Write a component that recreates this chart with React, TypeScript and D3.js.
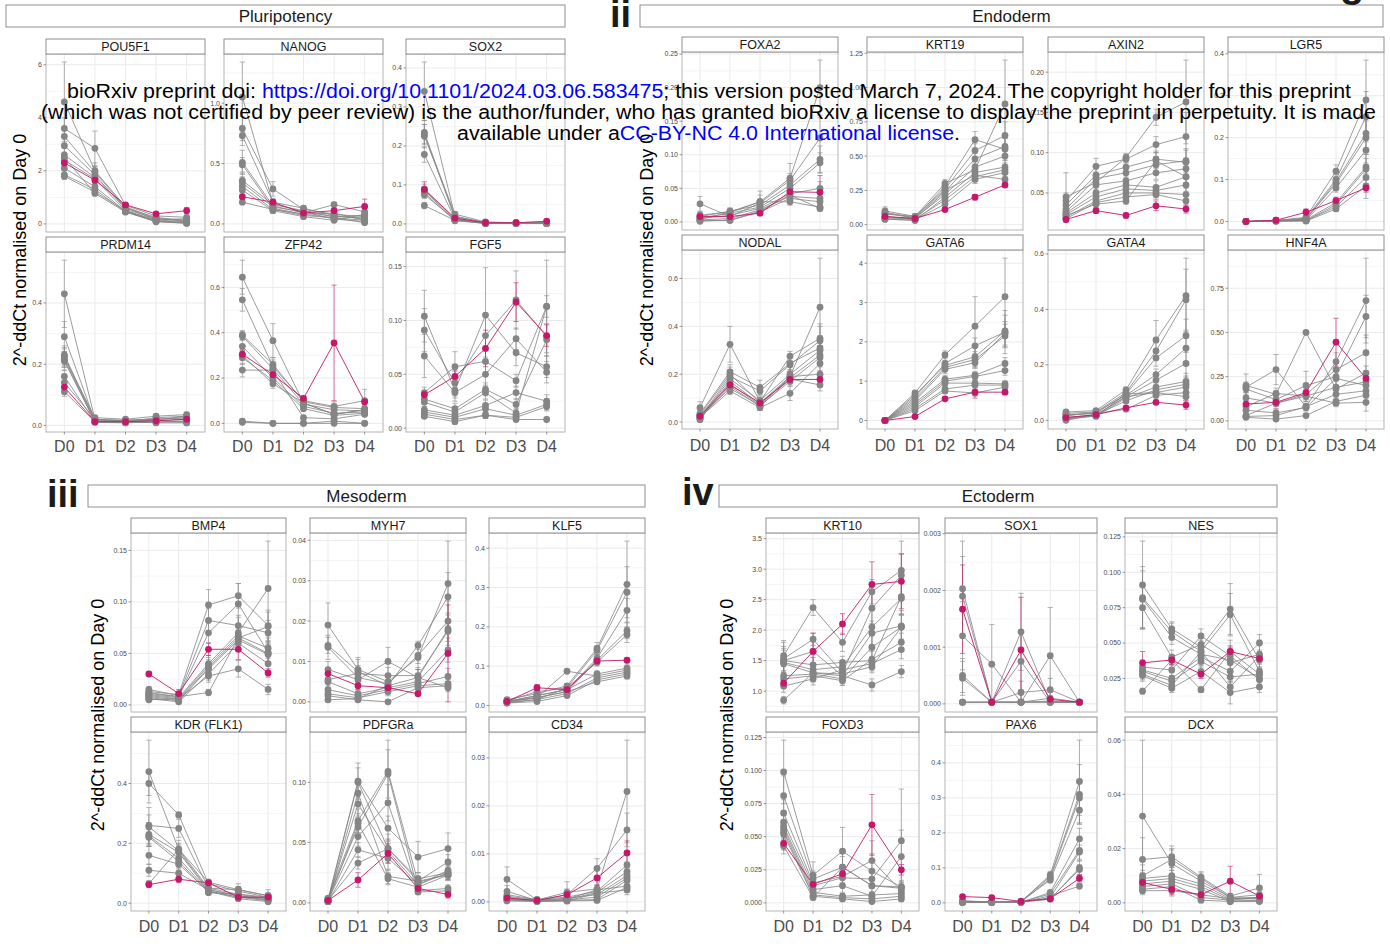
import React from "react";
import * as d3 from "d3";

const DAYS = ["D0", "D1", "D2", "D3", "D4"];
const Y_TITLE = "2^-ddCt normalised on Day 0";

// ---------- Pluripotency ----------
const POU5F1_lines = [[4.6,2.0,0.65,0.2,0.15],[3.6,2.85,0.7,0.3,0.25],[3.3,1.95,0.6,0.25,0.1],[2.95,1.85,0.55,0.2,0.1],[2.6,1.75,0.62,0.15,0.2],[2.4,1.7,0.5,0.12,0.05],[2.1,1.4,0.48,0.1,0.05],[1.85,1.3,0.45,0.1,0.02],[1.8,1.2,0.5,0.15,0.08],[2.5,1.15,0.45,0.08,0.03]];
const POU5F1_err = [[1.5,0.3,0.08,0.05,0.05],[0.4,0.65,0.1,0.06,0.06],[0.3,0.2,0.08,0.05,0.04],[0.3,0.3,0.07,0.04,0.03],[0.25,0.15,0.06,0.04,0.05],[0.2,0.2,0.05,0.03,0.02],[0.2,0.15,0.05,0.03,0.02],[0.15,0.1,0.04,0.03,0.02],[0.12,0.1,0.05,0.04,0.03],[0.2,0.08,0.04,0.03,0.02]];
const POU5F1_mag = [2.3,1.65,0.72,0.38,0.5];
const POU5F1_magErr = [0.2,0.12,0.05,0.05,0.12];
const POU5F1_ticks = ["0","2","4","6"];

const NANOG_lines = [[1.05,0.17,0.1,0.06,0.05],[0.79,0.29,0.12,0.08,0.06],[0.73,0.18,0.13,0.07,0.04],[0.51,0.15,0.09,0.16,0.1],[0.49,0.13,0.08,0.05,0.03],[0.36,0.16,0.11,0.06,0.07],[0.34,0.14,0.1,0.04,0.02],[0.31,0.12,0.07,0.05,0.01],[0.28,0.11,0.06,0.03,0.08],[0.18,0.12,0.08,0.09,0.03]];
const NANOG_err = [[0.29,0.03,0.02,0.02,0.02],[0.1,0.06,0.02,0.02,0.02],[0.08,0.03,0.02,0.02,0.01],[0.1,0.03,0.02,0.02,0.03],[0.06,0.02,0.02,0.01,0.01],[0.06,0.03,0.02,0.02,0.02],[0.05,0.02,0.02,0.01,0.01],[0.05,0.02,0.01,0.01,0.01],[0.04,0.02,0.01,0.01,0.02],[0.02,0.02,0.01,0.02,0.01]];
const NANOG_mag = [0.225,0.18,0.09,0.11,0.145];
const NANOG_magErr = [0.02,0.02,0.02,0.02,0.06];
const NANOG_ticks = ["0.0","0.5","1.0"];

const SOX2_lines = [[0.34,0.02,0.003,0.002,0.003],[0.235,0.018,0.004,0.003,0.002],[0.23,0.015,0.002,0.001,0.001],[0.225,0.025,0.005,0.003,0.004],[0.178,0.012,0.002,0.002,0.002],[0.09,0.012,0.003,0.002,0.001],[0.085,0.01,0.002,0.001,0.002],[0.08,0.008,0.002,0.002,0.003],[0.075,0.011,0.001,0.001,0.001],[0.047,0.009,0.001,0.001,0.001]];
const SOX2_err = [[0.075,0.005,0.002,0.002,0.002],[0.03,0.004,0.002,0.002,0.002],[0.025,0.004,0.001,0.001,0.001],[0.03,0.005,0.002,0.002,0.002],[0.02,0.003,0.001,0.001,0.001],[0.012,0.003,0.001,0.001,0.001],[0.01,0.003,0.001,0.001,0.001],[0.01,0.002,0.001,0.001,0.001],[0.01,0.003,0.001,0.001,0.001],[0.008,0.002,0.001,0.001,0.001]];
const SOX2_mag = [0.088,0.015,0.003,0.003,0.007];
const SOX2_magErr = [0.02,0.003,0.002,0.002,0.003];
const SOX2_ticks = ["0.0","0.1","0.2","0.3","0.4"];

const PRDM14_lines = [[0.43,0.02,0.015,0.02,0.025],[0.29,0.015,0.012,0.025,0.03],[0.23,0.018,0.015,0.015,0.02],[0.225,0.012,0.01,0.01,0.015],[0.22,0.025,0.02,0.03,0.035],[0.215,0.01,0.008,0.012,0.01],[0.21,0.014,0.018,0.02,0.025],[0.16,0.011,0.012,0.008,0.008],[0.14,0.02,0.015,0.018,0.03],[0.11,0.012,0.01,0.015,0.012]];
const PRDM14_err = [[0.11,0.005,0.004,0.006,0.008],[0.05,0.004,0.004,0.008,0.01],[0.03,0.004,0.004,0.005,0.006],[0.03,0.003,0.003,0.004,0.005],[0.03,0.006,0.005,0.008,0.008],[0.025,0.003,0.003,0.004,0.004],[0.03,0.004,0.004,0.006,0.006],[0.02,0.003,0.003,0.003,0.003],[0.02,0.005,0.004,0.005,0.008],[0.015,0.003,0.003,0.004,0.004]];
const PRDM14_mag = [0.125,0.012,0.012,0.015,0.02];
const PRDM14_magErr = [0.015,0.003,0.003,0.004,0.005];
const PRDM14_ticks = ["0.0","0.2","0.4"];

const ZFP42_lines = [[0.645,0.365,0.09,0.04,0.06],[0.545,0.25,0.1,0.075,0.1],[0.39,0.26,0.095,0.07,0.065],[0.385,0.24,0.085,0.06,0.055],[0.34,0.2,0.075,0.045,0.05],[0.29,0.19,0.065,0.035,0.045],[0.235,0.235,0.025,0.02,0.04],[0.3,0.175,0.09,0.04,0.06],[0.01,0.0,0.0,0.01,0.0],[0.005,0.0,0.0,0.0,0.0]];
const ZFP42_err = [[0.075,0.075,0.02,0.02,0.02],[0.05,0.03,0.02,0.02,0.05],[0.02,0.03,0.015,0.015,0.015],[0.02,0.03,0.015,0.015,0.015],[0.03,0.02,0.015,0.01,0.01],[0.03,0.02,0.01,0.01,0.01],[0.03,0.02,0.01,0.01,0.01],[0.02,0.02,0.015,0.01,0.01],[0.01,0.002,0.002,0.01,0.002],[0.005,0.002,0.002,0.002,0.002]];
const ZFP42_mag = [0.305,0.215,0.11,0.355,0.095];
const ZFP42_magErr = [0.02,0.02,0.01,0.255,0.01];
const ZFP42_ticks = ["0.0","0.2","0.4","0.6"];

const FGF5_lines = [[0.104,0.035,0.105,0.07,0.057],[0.091,0.042,0.086,0.119,0.085],[0.067,0.033,0.05,0.083,0.052],[0.033,0.057,0.062,0.044,0.113],[0.027,0.018,0.036,0.022,0.082],[0.024,0.015,0.033,0.014,0.113],[0.017,0.012,0.021,0.033,0.025],[0.015,0.01,0.018,0.012,0.022],[0.013,0.008,0.012,0.01,0.02],[0.011,0.006,0.012,0.008,0.008]];
const FGF5_err = [[0.024,0.01,0.044,0.012,0.01],[0.02,0.012,0.02,0.027,0.03],[0.02,0.005,0.01,0.01,0.01],[0.005,0.014,0.01,0.006,0.043],[0.004,0.005,0.006,0.005,0.015],[0.004,0.004,0.006,0.004,0.01],[0.003,0.004,0.005,0.006,0.006],[0.003,0.003,0.004,0.003,0.005],[0.002,0.002,0.003,0.003,0.004],[0.002,0.002,0.003,0.002,0.002]];
const FGF5_mag = [0.031,0.048,0.074,0.117,0.086];
const FGF5_magErr = [0.003,0.005,0.017,0.018,0.01];
const FGF5_ticks = ["0.00","0.05","0.10","0.15"];

// ---------- Endoderm ----------
const FOXA2_lines = [[0.01,0.015,0.03,0.065,0.2],[0.027,0.008,0.028,0.062,0.125],[0.008,0.016,0.025,0.055,0.093],[0.006,0.013,0.022,0.05,0.088],[0.005,0.01,0.02,0.042,0.05],[0.003,0.005,0.018,0.038,0.035],[0.002,0.002,0.015,0.035,0.03],[0.004,0.014,0.03,0.03,0.022],[0.001,0.003,0.016,0.04,0.02]];
const FOXA2_err = [[0.005,0.005,0.01,0.022,0.041],[0.011,0.005,0.005,0.01,0.03],[0.004,0.005,0.005,0.008,0.02],[0.004,0.004,0.005,0.008,0.015],[0.003,0.004,0.004,0.006,0.01],[0.003,0.003,0.004,0.006,0.008],[0.002,0.002,0.003,0.005,0.006],[0.003,0.004,0.016,0.005,0.004],[0.001,0.002,0.003,0.006,0.004]];
const FOXA2_mag = [0.008,0.008,0.013,0.045,0.044];
const FOXA2_magErr = [0.003,0.003,0.003,0.008,0.025];
const FOXA2_ticks = ["0.00","0.05","0.10","0.15","0.20","0.25"];

const KRT19_lines = [[0.1,0.06,0.3,0.4,0.88],[0.09,0.05,0.28,0.62,0.55],[0.08,0.06,0.26,0.54,0.65],[0.06,0.04,0.24,0.48,0.57],[0.05,0.05,0.22,0.42,0.5],[0.04,0.03,0.2,0.38,0.42],[0.05,0.04,0.18,0.35,0.4],[0.04,0.035,0.15,0.33,0.38],[0.08,0.05,0.25,0.36,0.33]];
const KRT19_err = [[0.03,0.01,0.03,0.05,0.32],[0.02,0.01,0.03,0.06,0.08],[0.02,0.01,0.03,0.05,0.1],[0.02,0.01,0.03,0.04,0.06],[0.015,0.01,0.02,0.04,0.06],[0.01,0.01,0.02,0.03,0.05],[0.01,0.01,0.02,0.03,0.05],[0.01,0.01,0.02,0.03,0.04],[0.02,0.01,0.03,0.03,0.04]];
const KRT19_mag = [0.06,0.045,0.11,0.2,0.29];
const KRT19_magErr = [0.01,0.01,0.015,0.02,0.02];
const KRT19_ticks = ["0.00","0.25","0.50","0.75","1.00","1.25"];

const AXIN2_lines = [[0.045,0.063,0.094,0.144,0.163],[0.04,0.083,0.092,0.11,0.12],[0.035,0.072,0.082,0.092,0.088],[0.03,0.068,0.075,0.085,0.09],[0.027,0.06,0.065,0.075,0.08],[0.025,0.05,0.06,0.057,0.07],[0.023,0.045,0.055,0.053,0.06],[0.02,0.04,0.05,0.05,0.048],[0.018,0.038,0.045,0.048,0.04],[0.022,0.036,0.04,0.09,0.07]];
const AXIN2_err = [[0.03,0.01,0.005,0.01,0.052],[0.01,0.01,0.005,0.01,0.03],[0.008,0.008,0.006,0.01,0.015],[0.006,0.008,0.006,0.01,0.015],[0.005,0.006,0.006,0.008,0.01],[0.005,0.006,0.005,0.008,0.01],[0.004,0.005,0.005,0.006,0.008],[0.004,0.005,0.005,0.006,0.008],[0.004,0.004,0.004,0.006,0.006],[0.004,0.004,0.004,0.01,0.01]];
const AXIN2_mag = [0.017,0.028,0.022,0.034,0.03];
const AXIN2_magErr = [0.003,0.003,0.003,0.006,0.005];
const AXIN2_ticks = ["0.00","0.05","0.10","0.15","0.20"];

const LGR5_lines = [[0.0,0.002,0.01,0.12,0.29],[0.0,0.003,0.008,0.1,0.25],[0.0,0.001,0.005,0.095,0.21],[0.0,0.002,0.006,0.09,0.2],[0.0,0.001,0.003,0.08,0.17],[0.0,0.002,0.004,0.045,0.13],[0.0,0.001,0.002,0.04,0.125],[0.0,0.002,0.002,0.035,0.105],[0.0,0.001,0.001,0.03,0.085]];
const LGR5_err = [[0.001,0.001,0.003,0.015,0.095],[0.001,0.001,0.003,0.012,0.06],[0.001,0.001,0.002,0.012,0.04],[0.001,0.001,0.002,0.01,0.04],[0.001,0.001,0.002,0.01,0.03],[0.001,0.001,0.002,0.008,0.03],[0.001,0.001,0.001,0.008,0.025],[0.001,0.001,0.001,0.006,0.02],[0.001,0.001,0.001,0.005,0.03]];
const LGR5_mag = [0.0,0.003,0.022,0.05,0.08];
const LGR5_magErr = [0.001,0.001,0.008,0.008,0.01];
const LGR5_ticks = ["0.0","0.1","0.2","0.3","0.4"];

const NODAL_lines = [[0.03,0.2,0.08,0.19,0.48],[0.06,0.325,0.085,0.275,0.35],[0.035,0.21,0.145,0.245,0.31],[0.02,0.19,0.13,0.24,0.34],[0.015,0.18,0.09,0.2,0.3],[0.01,0.17,0.075,0.185,0.28],[0.025,0.14,0.07,0.17,0.27],[0.02,0.13,0.06,0.12,0.245],[0.03,0.16,0.07,0.19,0.2],[0.015,0.15,0.065,0.18,0.155]];
const NODAL_err = [[0.01,0.03,0.01,0.02,0.205],[0.025,0.075,0.01,0.02,0.06],[0.01,0.03,0.03,0.03,0.05],[0.01,0.03,0.02,0.03,0.06],[0.008,0.03,0.015,0.03,0.05],[0.005,0.02,0.01,0.02,0.04],[0.01,0.015,0.01,0.02,0.04],[0.01,0.015,0.01,0.03,0.03],[0.01,0.02,0.01,0.03,0.04],[0.005,0.02,0.01,0.02,0.025]];
const NODAL_mag = [0.025,0.155,0.08,0.178,0.178];
const NODAL_magErr = [0.005,0.01,0.01,0.01,0.02];
const NODAL_ticks = ["0.0","0.2","0.4","0.6"];

const GATA6_lines = [[0,0.7,1.67,2.4,3.15],[0,0.6,1.45,1.9,2.25],[0,0.65,1.4,1.62,2.28],[0,0.55,1.35,1.55,2.15],[0,0.5,1.3,1.47,2.22],[0,0.45,1.05,1.15,1.45],[0,0.4,1.0,1.12,1.27],[0,0.35,0.95,0.95,0.93],[0,0.3,0.8,0.9,0.9],[0,0.25,0.75,0.7,0.85]];
const GATA6_err = [[0.01,0.05,0.1,0.75,0.98],[0.01,0.06,0.15,0.2,0.55],[0.01,0.05,0.12,0.25,0.4],[0.01,0.05,0.1,0.2,0.3],[0.01,0.05,0.1,0.15,0.3],[0.01,0.04,0.1,0.1,0.15],[0.01,0.04,0.08,0.1,0.12],[0.01,0.04,0.08,0.1,0.08],[0.01,0.03,0.06,0.08,0.08],[0.01,0.03,0.06,0.08,0.08]];
const GATA6_mag = [0,0.1,0.55,0.72,0.72];
const GATA6_magErr = [0.01,0.02,0.04,0.15,0.06];
const GATA6_ticks = ["0","1","2","3","4"];

const GATA4_lines = [[0.03,0.035,0.11,0.29,0.45],[0.025,0.03,0.1,0.25,0.435],[0.02,0.025,0.095,0.225,0.305],[0.015,0.03,0.09,0.165,0.26],[0.01,0.02,0.085,0.145,0.205],[0.005,0.015,0.08,0.12,0.14],[0.0,0.02,0.07,0.11,0.13],[0.01,0.015,0.095,0.1,0.12],[0.02,0.025,0.04,0.09,0.1],[0.005,0.02,0.085,0.1,0.085]];
const GATA4_err = [[0.005,0.005,0.01,0.07,0.135],[0.005,0.005,0.01,0.03,0.11],[0.005,0.005,0.01,0.03,0.06],[0.004,0.005,0.01,0.02,0.06],[0.003,0.004,0.01,0.02,0.05],[0.003,0.004,0.008,0.015,0.03],[0.002,0.004,0.008,0.015,0.03],[0.003,0.003,0.01,0.015,0.02],[0.004,0.004,0.005,0.01,0.02],[0.002,0.003,0.008,0.01,0.015]];
const GATA4_mag = [0.01,0.02,0.045,0.065,0.055];
const GATA4_magErr = [0.005,0.005,0.005,0.008,0.015];
const GATA4_ticks = ["0.0","0.2","0.4","0.6"];

const HNF4A_lines = [[0.2,0.15,0.5,0.18,0.27],[0.19,0.29,0.08,0.335,0.68],[0.18,0.12,0.2,0.25,0.59],[0.13,0.1,0.15,0.29,0.385],[0.08,0.155,0.14,0.19,0.22],[0.06,0.045,0.075,0.24,0.2],[0.025,0.03,0.08,0.15,0.17],[0.02,0.01,0.03,0.11,0.145],[0.03,0.1,0.14,0.1,0.105]];
const HNF4A_err = [[0.065,0.02,0.01,0.02,0.04],[0.03,0.085,0.01,0.05,0.24],[0.03,0.03,0.08,0.05,0.12],[0.03,0.03,0.03,0.05,0.1],[0.02,0.03,0.03,0.04,0.05],[0.02,0.02,0.02,0.05,0.05],[0.01,0.01,0.02,0.03,0.04],[0.01,0.01,0.01,0.02,0.03],[0.01,0.02,0.03,0.02,0.05]];
const HNF4A_mag = [0.095,0.105,0.16,0.445,0.24];
const HNF4A_magErr = [0.02,0.02,0.02,0.135,0.04];
const HNF4A_ticks = ["0.00","0.25","0.50","0.75"];

// ---------- Mesoderm ----------
const BMP4_lines = [[0.013,0.01,0.097,0.106,0.077],[0.015,0.009,0.082,0.077,0.07],[0.011,0.008,0.07,0.098,0.051],[0.01,0.007,0.04,0.07,0.113],[0.009,0.006,0.038,0.067,0.055],[0.008,0.005,0.036,0.065,0.076],[0.007,0.004,0.035,0.063,0.049],[0.006,0.003,0.03,0.06,0.04],[0.005,0.006,0.028,0.035,0.015],[0.012,0.008,0.012,0.065,0.05]];
const BMP4_err = [[0.003,0.002,0.015,0.012,0.015],[0.003,0.002,0.012,0.01,0.012],[0.002,0.002,0.01,0.02,0.01],[0.002,0.002,0.008,0.015,0.046],[0.002,0.002,0.008,0.01,0.01],[0.002,0.002,0.008,0.01,0.014],[0.002,0.002,0.006,0.01,0.01],[0.002,0.002,0.006,0.008,0.008],[0.002,0.002,0.006,0.008,0.005],[0.003,0.002,0.003,0.01,0.01]];
const BMP4_mag = [0.03,0.011,0.054,0.054,0.031];
const BMP4_magErr = [0.002,0.004,0.006,0.01,0.004];
const BMP4_ticks = ["0.00","0.05","0.10","0.15"];

const MYH7_lines = [[0.019,0.008,0.005,0.011,0.0293],[0.014,0.0075,0.004,0.014,0.026],[0.0135,0.006,0.0045,0.0115,0.02],[0.008,0.0055,0.01,0.006,0.018],[0.0055,0.007,0.0065,0.0065,0.0175],[0.005,0.002,0.0035,0.005,0.0128],[0.003,0.0015,0.003,0.0045,0.0063],[0.002,0.001,0.0025,0.004,0.0045],[0.0015,0.0005,0.0,0.0035,0.004],[0.0005,0.0008,0.004,0.006,0.0035]];
const MYH7_err = [[0.0055,0.003,0.002,0.003,0.0105],[0.002,0.003,0.002,0.001,0.006],[0.003,0.002,0.002,0.002,0.005],[0.002,0.002,0.0035,0.002,0.004],[0.002,0.002,0.002,0.002,0.004],[0.002,0.001,0.001,0.002,0.003],[0.001,0.001,0.001,0.001,0.002],[0.001,0.0005,0.001,0.001,0.001],[0.001,0.0005,0.0005,0.001,0.001],[0.0005,0.0005,0.001,0.002,0.001]];
const MYH7_mag = [0.007,0.004,0.0035,0.002,0.012];
const MYH7_magErr = [0.001,0.001,0.001,0.0005,0.012];
const MYH7_ticks = ["0.00","0.01","0.02","0.03","0.04"];

const KLF5_lines = [[0.015,0.03,0.05,0.145,0.308],[0.012,0.035,0.045,0.14,0.288],[0.01,0.025,0.04,0.12,0.242],[0.008,0.02,0.035,0.115,0.19],[0.006,0.015,0.045,0.11,0.18],[0.01,0.02,0.087,0.075,0.09],[0.008,0.015,0.03,0.07,0.085],[0.006,0.01,0.025,0.065,0.08],[0.012,0.02,0.035,0.06,0.075],[0.01,0.025,0.04,0.08,0.095]];
const KLF5_err = [[0.005,0.005,0.005,0.015,0.11],[0.004,0.005,0.005,0.012,0.065],[0.003,0.004,0.004,0.01,0.03],[0.003,0.004,0.004,0.01,0.02],[0.002,0.003,0.004,0.01,0.02],[0.003,0.003,0.003,0.008,0.01],[0.002,0.003,0.003,0.008,0.01],[0.002,0.002,0.003,0.008,0.01],[0.003,0.003,0.003,0.006,0.008],[0.003,0.003,0.004,0.008,0.01]];
const KLF5_mag = [0.01,0.045,0.04,0.113,0.115];
const KLF5_magErr = [0.003,0.008,0.005,0.01,0.005];
const KLF5_ticks = ["0.0","0.1","0.2","0.3","0.4"];

const KDR_lines = [[0.44,0.18,0.07,0.045,0.025],[0.4,0.295,0.065,0.04,0.02],[0.26,0.25,0.05,0.03,0.015],[0.255,0.175,0.045,0.025,0.01],[0.23,0.17,0.04,0.02,0.008],[0.225,0.15,0.04,0.015,0.005],[0.22,0.14,0.035,0.03,0.02],[0.16,0.13,0.04,0.02,0.012],[0.11,0.1,0.045,0.025,0.015],[0.065,0.18,0.05,0.045,0.025]];
const KDR_err = [[0.105,0.03,0.01,0.02,0.02],[0.04,0.01,0.01,0.015,0.01],[0.06,0.03,0.008,0.01,0.008],[0.04,0.02,0.008,0.008,0.006],[0.04,0.02,0.006,0.008,0.005],[0.03,0.02,0.006,0.006,0.004],[0.03,0.02,0.006,0.008,0.006],[0.03,0.02,0.006,0.006,0.005],[0.02,0.015,0.006,0.006,0.005],[0.01,0.02,0.008,0.01,0.008]];
const KDR_mag = [0.062,0.08,0.068,0.02,0.02];
const KDR_magErr = [0.01,0.01,0.005,0.005,0.005];
const KDR_ticks = ["0.0","0.2","0.4"];

const PDFGRA_lines = [[0.002,0.101,0.062,0.038,0.045],[0.003,0.1,0.045,0.02,0.025],[0.001,0.091,0.022,0.018,0.034],[0.002,0.082,0.043,0.015,0.027],[0.004,0.068,0.109,0.017,0.024],[0.001,0.066,0.02,0.013,0.023],[0.003,0.063,0.107,0.01,0.012],[0.002,0.055,0.083,0.009,0.01],[0.001,0.044,0.037,0.015,0.025],[0.002,0.033,0.045,0.018,0.023]];
const PDFGRA_err = [[0.001,0.015,0.01,0.013,0.013],[0.001,0.012,0.008,0.005,0.006],[0.001,0.01,0.006,0.004,0.006],[0.001,0.01,0.008,0.004,0.005],[0.001,0.01,0.026,0.004,0.005],[0.001,0.008,0.005,0.003,0.004],[0.001,0.008,0.02,0.003,0.003],[0.001,0.008,0.015,0.002,0.003],[0.001,0.006,0.01,0.003,0.005],[0.001,0.005,0.012,0.004,0.004]];
const PDFGRA_mag = [0.002,0.019,0.041,0.012,0.007];
const PDFGRA_magErr = [0.001,0.006,0.008,0.003,0.003];
const PDFGRA_ticks = ["0.00","0.05","0.10"];

const CD34_lines = [[0.0047,0.0004,0.002,0.0027,0.023],[0.0022,0.0003,0.0015,0.007,0.015],[0.0015,0.0005,0.001,0.0022,0.0077],[0.001,0.0002,0.0005,0.002,0.0063],[0.0008,0.0003,0.0008,0.0015,0.0055],[0.0005,0.0001,0.0004,0.001,0.005],[0.0003,0.0002,0.0003,0.0005,0.0045],[0.0012,0.0004,0.0006,0.0025,0.0033],[0.0006,0.0002,0.0002,0.0003,0.003],[0.0002,0.0001,0.0002,0.0018,0.0025]];
const CD34_err = [[0.0026,0.0003,0.0022,0.002,0.0107],[0.0012,0.0003,0.0012,0.002,0.0035],[0.0008,0.0003,0.0008,0.0012,0.0025],[0.0006,0.0002,0.0005,0.001,0.002],[0.0005,0.0002,0.0005,0.0008,0.0015],[0.0004,0.0001,0.0003,0.0006,0.0015],[0.0002,0.0002,0.0002,0.0004,0.0012],[0.0006,0.0003,0.0004,0.001,0.001],[0.0004,0.0002,0.0002,0.0003,0.001],[0.0002,0.0001,0.0002,0.0008,0.001]];
const CD34_mag = [0.0008,0.0003,0.0015,0.005,0.0102];
const CD34_magErr = [0.0004,0.0002,0.0008,0.0015,0.0025];
const CD34_ticks = ["0.00","0.01","0.02","0.03"];

// ---------- Ectoderm ----------
const KRT10_lines = [[1.58,2.37,1.8,2.63,2.98],[1.53,1.85,1.3,2.36,2.9],[1.5,1.43,1.47,1.5,2.55],[1.47,1.35,1.4,2.05,2.52],[1.45,1.3,1.25,1.95,2.07],[1.25,1.28,1.2,1.72,2.05],[1.2,1.25,1.17,1.52,1.8],[1.08,1.2,1.35,1.45,1.68],[0.85,1.3,1.28,1.4,2.05],[1.5,1.65,1.25,1.1,1.32]];
const KRT10_err = [[0.25,0.13,0.15,0.2,0.48],[0.2,0.1,0.12,0.25,0.35],[0.3,0.12,0.1,0.15,0.3],[0.2,0.1,0.1,0.3,0.25],[0.15,0.1,0.1,0.2,0.25],[0.15,0.1,0.1,0.2,0.2],[0.1,0.1,0.08,0.15,0.15],[0.1,0.1,0.1,0.12,0.15],[0.06,0.1,0.1,0.1,0.2],[0.2,0.2,0.1,0.1,0.1]];
const KRT10_mag = [1.13,1.65,2.1,2.75,2.8];
const KRT10_magErr = [0.06,0.3,0.17,0.37,0.45];
const KRT10_ticks = ["1.0","1.5","2.0","2.5","3.0","3.5"];

const SOX1_lines = [[0.00203,0.00003,0.00127,0.00003,0.00003],[0.0019,0.00003,0.00075,0.00003,0.00003],[0.0012,0.0007,0.00003,0.00085,0.00003],[0.0005,0.00003,0.0002,0.00025,0.00003],[0.00045,0.00003,0.00003,0.0001,0.00003],[0.00003,0.00003,0.00003,0.00005,0.00003],[0.00003,0.00003,0.00003,0.00003,0.00003],[0.00003,0.00003,0.00003,0.00003,0.00003]];
const SOX1_err = [[0.00084,0.00003,0.00068,0.00003,0.00002],[0.0007,0.00003,0.0005,0.00003,0.00002],[0.0006,0.0007,0.00002,0.00085,0.00002],[0.0003,0.00002,0.0002,0.0002,0.00002],[0.0003,0.00002,0.00002,0.0001,0.00002],[0.00002,0.00002,0.00002,0.00003,0.00002],[0.00002,0.00002,0.00002,0.00002,0.00002],[0.00002,0.00002,0.00002,0.00002,0.00002]];
const SOX1_mag = [0.00167,0.00003,0.00095,0.00008,0.00003];
const SOX1_magErr = [0.00078,0.00002,0.00093,0.00003,0.00002];
const SOX1_ticks = ["0.000","0.001","0.002","0.003"];

const NES_lines = [[0.091,0.06,0.047,0.074,0.038],[0.082,0.058,0.044,0.07,0.03],[0.081,0.054,0.042,0.038,0.025],[0.075,0.04,0.049,0.036,0.042],[0.033,0.031,0.055,0.041,0.024],[0.031,0.025,0.04,0.03,0.05],[0.03,0.023,0.037,0.026,0.028],[0.028,0.02,0.044,0.019,0.041],[0.027,0.018,0.03,0.015,0.019],[0.016,0.038,0.017,0.044,0.028]];
const NES_err = [[0.031,0.005,0.005,0.018,0.005],[0.022,0.006,0.005,0.015,0.005],[0.02,0.005,0.005,0.006,0.004],[0.015,0.005,0.006,0.006,0.01],[0.005,0.004,0.005,0.006,0.004],[0.004,0.004,0.005,0.005,0.006],[0.004,0.004,0.004,0.004,0.004],[0.004,0.003,0.005,0.004,0.004],[0.004,0.003,0.004,0.008,0.004],[0.002,0.004,0.002,0.008,0.005]];
const NES_mag = [0.036,0.038,0.028,0.044,0.039];
const NES_magErr = [0.008,0.003,0.003,0.004,0.003];
const NES_ticks = ["0.025","0.050","0.075","0.100","0.125"];

const FOXD3_lines = [[0.099,0.021,0.039,0.024,0.012],[0.081,0.018,0.027,0.013,0.011],[0.068,0.015,0.02,0.032,0.009],[0.061,0.013,0.019,0.018,0.047],[0.058,0.01,0.013,0.005,0.035],[0.056,0.008,0.005,0.006,0.007],[0.054,0.006,0.004,0.003,0.005],[0.052,0.005,0.003,0.001,0.003],[0.043,0.004,0.027,0.013,0.012]];
const FOXD3_err = [[0.024,0.01,0.018,0.013,0.005],[0.015,0.006,0.012,0.006,0.004],[0.01,0.005,0.008,0.015,0.004],[0.008,0.004,0.006,0.006,0.039],[0.008,0.004,0.005,0.003,0.02],[0.006,0.003,0.002,0.002,0.003],[0.006,0.002,0.002,0.002,0.002],[0.005,0.002,0.002,0.001,0.002],[0.006,0.002,0.008,0.005,0.004]];
const FOXD3_mag = [0.045,0.014,0.022,0.059,0.025];
const FOXD3_magErr = [0.005,0.002,0.004,0.023,0.004];
const FOXD3_ticks = ["0.000","0.025","0.050","0.075","0.100","0.125"];

const PAX6_lines = [[0.003,0.002,0.003,0.08,0.347],[0.005,0.003,0.004,0.075,0.31],[0.002,0.001,0.002,0.07,0.3],[0.004,0.002,0.005,0.065,0.265],[0.001,0.001,0.001,0.03,0.183],[0.006,0.002,0.003,0.025,0.15],[0.002,0.001,0.002,0.015,0.145],[0.003,0.002,0.003,0.01,0.1],[0.001,0.001,0.002,0.012,0.095],[0.004,0.003,0.001,0.02,0.048]];
const PAX6_err = [[0.003,0.001,0.002,0.01,0.118],[0.003,0.002,0.002,0.01,0.085],[0.002,0.001,0.001,0.01,0.05],[0.002,0.001,0.002,0.008,0.04],[0.001,0.001,0.001,0.005,0.03],[0.003,0.001,0.002,0.005,0.03],[0.001,0.001,0.001,0.004,0.02],[0.002,0.001,0.001,0.003,0.02],[0.001,0.001,0.001,0.003,0.015],[0.002,0.001,0.001,0.004,0.008]];
const PAX6_mag = [0.018,0.015,0.004,0.012,0.07];
const PAX6_magErr = [0.003,0.003,0.001,0.003,0.01];
const PAX6_ticks = ["0.0","0.1","0.2","0.3","0.4"];

const DCX_lines = [[0.032,0.0145,0.008,0.002,0.0015],[0.016,0.017,0.0095,0.0025,0.0055],[0.01,0.016,0.009,0.002,0.003],[0.009,0.01,0.007,0.0015,0.002],[0.008,0.009,0.006,0.001,0.001],[0.007,0.008,0.005,0.0005,0.0005],[0.006,0.007,0.002,0.001,0.002],[0.005,0.006,0.001,0.0005,0.001],[0.0045,0.0045,0.003,0.0015,0.002]];
const DCX_err = [[0.028,0.005,0.002,0.001,0.001],[0.008,0.004,0.002,0.001,0.005],[0.004,0.004,0.002,0.001,0.001],[0.003,0.003,0.002,0.001,0.001],[0.003,0.003,0.001,0.001,0.001],[0.002,0.002,0.001,0.0005,0.0005],[0.002,0.002,0.001,0.001,0.001],[0.002,0.002,0.001,0.0005,0.001],[0.001,0.002,0.001,0.001,0.001]];
const DCX_mag = [0.0075,0.005,0.003,0.008,0.0025];
const DCX_magErr = [0.002,0.002,0.001,0.0055,0.001];
const DCX_ticks = ["0.00","0.02","0.04","0.06"];

type Gene = { name: string; lines: number[][]; err: number[][]; mag: number[]; magErr: number[]; ticks: string[] };
const gene = (name: string, lines: number[][], err: number[][], mag: number[], magErr: number[], ticks: string[]): Gene => ({ name, lines, err, mag, magErr, ticks });

const pluripotencyGenes = [
  gene("POU5F1", POU5F1_lines, POU5F1_err, POU5F1_mag, POU5F1_magErr, POU5F1_ticks),
  gene("NANOG", NANOG_lines, NANOG_err, NANOG_mag, NANOG_magErr, NANOG_ticks),
  gene("SOX2", SOX2_lines, SOX2_err, SOX2_mag, SOX2_magErr, SOX2_ticks),
  gene("PRDM14", PRDM14_lines, PRDM14_err, PRDM14_mag, PRDM14_magErr, PRDM14_ticks),
  gene("ZFP42", ZFP42_lines, ZFP42_err, ZFP42_mag, ZFP42_magErr, ZFP42_ticks),
  gene("FGF5", FGF5_lines, FGF5_err, FGF5_mag, FGF5_magErr, FGF5_ticks),
];
const endodermGenes = [
  gene("FOXA2", FOXA2_lines, FOXA2_err, FOXA2_mag, FOXA2_magErr, FOXA2_ticks),
  gene("KRT19", KRT19_lines, KRT19_err, KRT19_mag, KRT19_magErr, KRT19_ticks),
  gene("AXIN2", AXIN2_lines, AXIN2_err, AXIN2_mag, AXIN2_magErr, AXIN2_ticks),
  gene("LGR5", LGR5_lines, LGR5_err, LGR5_mag, LGR5_magErr, LGR5_ticks),
  gene("NODAL", NODAL_lines, NODAL_err, NODAL_mag, NODAL_magErr, NODAL_ticks),
  gene("GATA6", GATA6_lines, GATA6_err, GATA6_mag, GATA6_magErr, GATA6_ticks),
  gene("GATA4", GATA4_lines, GATA4_err, GATA4_mag, GATA4_magErr, GATA4_ticks),
  gene("HNF4A", HNF4A_lines, HNF4A_err, HNF4A_mag, HNF4A_magErr, HNF4A_ticks),
];
const mesodermGenes = [
  gene("BMP4", BMP4_lines, BMP4_err, BMP4_mag, BMP4_magErr, BMP4_ticks),
  gene("MYH7", MYH7_lines, MYH7_err, MYH7_mag, MYH7_magErr, MYH7_ticks),
  gene("KLF5", KLF5_lines, KLF5_err, KLF5_mag, KLF5_magErr, KLF5_ticks),
  gene("KDR (FLK1)", KDR_lines, KDR_err, KDR_mag, KDR_magErr, KDR_ticks),
  gene("PDFGRa", PDFGRA_lines, PDFGRA_err, PDFGRA_mag, PDFGRA_magErr, PDFGRA_ticks),
  gene("CD34", CD34_lines, CD34_err, CD34_mag, CD34_magErr, CD34_ticks),
];
const ectodermGenes = [
  gene("KRT10", KRT10_lines, KRT10_err, KRT10_mag, KRT10_magErr, KRT10_ticks),
  gene("SOX1", SOX1_lines, SOX1_err, SOX1_mag, SOX1_magErr, SOX1_ticks),
  gene("NES", NES_lines, NES_err, NES_mag, NES_magErr, NES_ticks),
  gene("FOXD3", FOXD3_lines, FOXD3_err, FOXD3_mag, FOXD3_magErr, FOXD3_ticks),
  gene("PAX6", PAX6_lines, PAX6_err, PAX6_mag, PAX6_magErr, PAX6_ticks),
  gene("DCX", DCX_lines, DCX_err, DCX_mag, DCX_magErr, DCX_ticks),
];

// ---------- layout / style ----------
const FONT = "'Liberation Sans', Arial, Helvetica, sans-serif";
const GREY = "#858585";
const MAG = "#c4186a";
const GRID = "#ebebeb";

const GROUPS = [
  { title: "Pluripotency", label: "", labelX: 0, labelY: 0, box: [6, 5, 565, 27], genes: pluripotencyGenes,
    cols: [[46, 205], [224, 383], [406, 565]], rows: [[39, 54, 232], [237, 252, 432]], axisX: 20, axisY: 250, xLabY: 452 },
  { title: "Endoderm", label: "ii", labelX: 610, labelY: 27, box: [640, 5, 1383, 27], genes: endodermGenes,
    cols: [[682, 838], [867, 1023], [1048, 1204], [1228, 1384]], rows: [[37, 52, 230], [235, 250, 429]], axisX: 647, axisY: 250, xLabY: 451 },
  { title: "Mesoderm", label: "iii", labelX: 47, labelY: 507, box: [88, 485, 645, 507], genes: mesodermGenes,
    cols: [[131, 286], [310, 466], [489, 645]], rows: [[518, 533, 712], [717, 732, 911]], axisX: 98, axisY: 715, xLabY: 932 },
  { title: "Ectoderm", label: "iv", labelX: 682, labelY: 505, box: [719, 485, 1277, 507], genes: ectodermGenes,
    cols: [[766, 919], [945, 1097], [1125, 1277]], rows: [[518, 533, 712], [717, 732, 911]], axisX: 727, axisY: 715, xLabY: 932 },
];

function Panel({ g, x0, x1, sTop, pTop, pBot, showX, xLabY }: any) {
  const x = d3.scalePoint<string>().domain(DAYS).range([x0, x1]).padding(0.6);
  const ext: number[] = [];
  g.lines.forEach((l: number[], i: number) => l.forEach((v, j) => { ext.push(v - g.err[i][j], v + g.err[i][j]); }));
  g.mag.forEach((v: number, j: number) => { ext.push(v - g.magErr[j], v + g.magErr[j]); });
  const lo = d3.min(ext) as number;
  const hi = d3.max(ext) as number;
  const pad = (hi - lo) * 0.05;
  const dom: [number, number] = [lo - pad, hi + pad];
  const y = d3.scaleLinear().domain(dom).range([pBot, pTop]);
  const tickVals = g.ticks.map((t: string) => ({ t, v: +t }));
  const major = tickVals.filter((d: any) => d.v >= dom[0] && d.v <= dom[1]);
  const step = tickVals.length > 1 ? tickVals[1].v - tickVals[0].v : 1;
  const minor: number[] = [];
  for (let m = tickVals[0].v - step * 20 + step / 2; m <= dom[1]; m += step) {
    if (m >= dom[0]) minor.push(m);
  }
  const line = d3.line<number>().x((_, j) => x(DAYS[j]) as number).y((v) => y(v));
  const cap = 2.6;
  const series = [
    ...g.lines.map((l: number[], i: number) => ({ v: l, e: g.err[i], c: GREY })),
    { v: g.mag, e: g.magErr, c: MAG },
  ];
  return (
    <g>
      <rect x={x0} y={pTop} width={x1 - x0} height={pBot - pTop} fill="#fff" />
      {minor.map((m, i) => (
        <line key={"mn" + i} x1={x0} x2={x1} y1={y(m)} y2={y(m)} stroke={GRID} strokeWidth={0.5} />
      ))}
      {major.map((d: any, i: number) => (
        <line key={"mj" + i} x1={x0} x2={x1} y1={y(d.v)} y2={y(d.v)} stroke={GRID} strokeWidth={1} />
      ))}
      {DAYS.map((d) => (
        <line key={"vx" + d} x1={x(d)} x2={x(d)} y1={pTop} y2={pBot} stroke={GRID} strokeWidth={1} />
      ))}
      {series.map((s: any, i: number) => (
        <path key={"ln" + i} d={line(s.v) as string} fill="none" stroke={s.c} strokeWidth={0.9} opacity={s.c === GREY ? 0.9 : 1} />
      ))}
      {series.map((s: any, i: number) => (
        <g key={"eb" + i} stroke={s.c} strokeWidth={0.7} opacity={0.85}>
          {s.v.map((v: number, j: number) => {
            const cx = x(DAYS[j]) as number;
            const yt = y(v + s.e[j]);
            const yb = y(v - s.e[j]);
            return (
              <g key={j}>
                <line x1={cx} x2={cx} y1={yt} y2={yb} />
                <line x1={cx - cap} x2={cx + cap} y1={yt} y2={yt} />
                <line x1={cx - cap} x2={cx + cap} y1={yb} y2={yb} />
              </g>
            );
          })}
        </g>
      ))}
      {series.map((s: any, i: number) => (
        <g key={"pt" + i} fill={s.c}>
          {s.v.map((v: number, j: number) => (
            <circle key={j} cx={x(DAYS[j]) as number} cy={y(v)} r={3.4} />
          ))}
        </g>
      ))}
      <rect x={x0} y={pTop} width={x1 - x0} height={pBot - pTop} fill="none" stroke="#b5b5b5" strokeWidth={1} />
      <rect x={x0} y={sTop} width={x1 - x0} height={pTop - sTop} fill="#fff" stroke="#8f8f8f" strokeWidth={1} />
      <text x={(x0 + x1) / 2} y={(sTop + pTop) / 2} dy="0.36em" textAnchor="middle" fontSize={12.5} fill="#1a1a1a" fontFamily={FONT}>{g.name}</text>
      {major.map((d: any, i: number) => (
        <g key={"yt" + i}>
          <line x1={x0 - 2.5} x2={x0} y1={y(d.v)} y2={y(d.v)} stroke="#555" strokeWidth={0.6} />
          <text x={x0 - 4} y={y(d.v)} dy="0.35em" textAnchor="end" fontSize={7} fill="#4d4d4d" fontFamily={FONT}>{d.t}</text>
        </g>
      ))}
      {showX && DAYS.map((d) => (
        <g key={"xt" + d}>
          <line x1={x(d)} x2={x(d)} y1={pBot} y2={pBot + 2.5} stroke="#555" strokeWidth={0.6} />
          <text x={x(d)} y={xLabY} textAnchor="middle" fontSize={16} fill="#4d4d4d" fontFamily={FONT}>{d}</text>
        </g>
      ))}
    </g>
  );
}

function Group({ grp }: any) {
  const [bx0, by0, bx1, by1] = grp.box;
  const nc = grp.cols.length;
  return (
    <g>
      <rect x={bx0} y={by0} width={bx1 - bx0} height={by1 - by0} fill="#fff" stroke="#8f8f8f" strokeWidth={1} />
      <text x={(bx0 + bx1) / 2} y={(by0 + by1) / 2} dy="0.36em" textAnchor="middle" fontSize={17} fill="#1a1a1a" fontFamily={FONT}>{grp.title}</text>
      {grp.label && (
        <text x={grp.labelX} y={grp.labelY} fontSize={38} fontWeight="bold" fill="#1a1a1a" fontFamily={FONT}>{grp.label}</text>
      )}
      <text transform={`translate(${grp.axisX},${grp.axisY}) rotate(-90)`} textAnchor="middle" dy="0.35em" fontSize={18} fill="#000" fontFamily={FONT}>{Y_TITLE}</text>
      {grp.genes.map((g: Gene, i: number) => {
        const c = grp.cols[i % nc];
        const r = grp.rows[Math.floor(i / nc)];
        return (
          <Panel key={g.name} g={g} x0={c[0]} x1={c[1]} sTop={r[0]} pTop={r[1]} pBot={r[2]} showX={Math.floor(i / nc) === 1} xLabY={grp.xLabY} />
        );
      })}
    </g>
  );
}

export default function App() {
  return (
    <svg width={1390} height={944} viewBox="0 0 1390 944" style={{ position: "absolute", left: 0, top: 0, display: "block", background: "#fff" }}>
      <rect x={0} y={0} width={1390} height={944} fill="#fff" />
      {GROUPS.map((grp) => <Group key={grp.title} grp={grp} />)}
      <text x={1340} y={-3} fontSize={40} fontWeight="bold" fill="#1a1a1a" fontFamily={FONT}>g</text>
      <g fontFamily={FONT} fontSize={20} textAnchor="middle">
        <text x={709} y={98} textLength={1284} lengthAdjust="spacingAndGlyphs">
          <tspan fill="#000">bioRxiv preprint doi: </tspan>
          <tspan fill="#0000ff">https://doi.org/10.1101/2024.03.06.583475</tspan>
          <tspan fill="#000">; this version posted March 7, 2024. The copyright holder for this preprint</tspan>
        </text>
        <text x={708.5} y={119} textLength={1335} lengthAdjust="spacingAndGlyphs" fill="#000">(which was not certified by peer review) is the author/funder, who has granted bioRxiv a license to display the preprint in perpetuity. It is made</text>
        <text x={708.5} y={140} textLength={503} lengthAdjust="spacingAndGlyphs">
          <tspan fill="#000">available under a</tspan>
          <tspan fill="#0000ff">CC-BY-NC 4.0 International license</tspan>
          <tspan fill="#000">.</tspan>
        </text>
      </g>
    </svg>
  );
}
